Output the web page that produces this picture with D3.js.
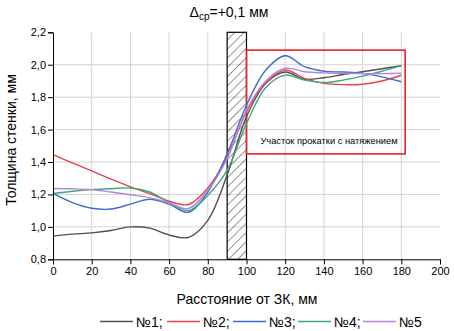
<!DOCTYPE html>
<html><head><meta charset="utf-8">
<script src="https://cdn.jsdelivr.net/npm/d3@7"></script>
<style>
html,body{margin:0;padding:0;background:#fff;}
svg{display:block;font-family:"Liberation Sans",Arial,sans-serif;}
</style></head>
<body>
<svg id="c" width="454" height="331"></svg>
<script>
const xs = [0,10,20,30,40,50,60,70,80,90,100,110,120,130,140,150,160,170,180];
const s1 = [0.943,0.955,0.963,0.978,1.0,0.992,0.95,0.935,1.04,1.32,1.68,1.885,1.955,1.91,1.92,1.94,1.957,1.975,1.994];
const s2 = [1.445,1.395,1.345,1.295,1.247,1.205,1.158,1.138,1.24,1.43,1.71,1.89,1.967,1.916,1.885,1.877,1.88,1.9,1.935];
const s3 = [1.206,1.15,1.115,1.11,1.14,1.17,1.14,1.09,1.215,1.45,1.75,1.967,2.055,1.988,1.96,1.955,1.947,1.925,1.895];
const s4 = [1.206,1.22,1.23,1.235,1.24,1.215,1.15,1.10,1.195,1.35,1.638,1.86,1.936,1.905,1.89,1.905,1.93,1.96,1.994];
const s5 = [1.237,1.235,1.23,1.215,1.198,1.18,1.148,1.113,1.226,1.42,1.72,1.9,1.978,1.957,1.95,1.947,1.945,1.945,1.947];
const seriesNames = ["№1;","№2;","№3;","№4;","№5"];
const seriesColors = ["#505050","#e8424e","#3b6dcb","#3fa67d","#b583e0"];
const xTicks = [0,20,40,60,80,100,120,140,160,180,200];
const yTicks = [0.8,1.0,1.2,1.4,1.6,1.8,2.0,2.2];
const hatchRange = [90,100];
const zoneRange = [100,182];
const zoneY = [1.45,2.09];
const titleMain = "Δ", titleSub = "ср", titleRest = "=+0,1 мм";
const xLabel = "Расстояние от ЗК, мм";
const yLabel = "Толщина стенки, мм";
const zoneLabel = "Участок прокатки с натяжением";

const svg = d3.select("#c");
const x = d3.scaleLinear().domain([0,200]).range([53,440]);
const y = d3.scaleLinear().domain([0.8,2.2]).range([259.3,32.3]);
const fmt = v => d3.format(".1f")(v).replace(".",",");

const defs = svg.append("defs");
const pat = defs.append("pattern").attr("id","hatch").attr("patternUnits","userSpaceOnUse")
  .attr("width",6.5).attr("height",6.5).attr("patternTransform","rotate(45)");
pat.append("line").attr("x1",0).attr("y1",0).attr("x2",0).attr("y2",6.5).attr("stroke","#000").attr("stroke-width",0.8);

const gridX = xTicks.filter(v => v>0 && v<200);
svg.append("g").selectAll("line").data(gridX).join("line")
  .attr("x1",d=>x(d)).attr("x2",d=>x(d)).attr("y1",y(2.2)).attr("y2",y(0.8))
  .attr("stroke","#d4d4d4").attr("stroke-width",1);
svg.append("g").selectAll("line").data(yTicks.filter(v=>v>0.8 && v<2.2)).join("line")
  .attr("x1",x(0)).attr("x2",x(200)).attr("y1",d=>y(d)).attr("y2",d=>y(d))
  .attr("stroke","#d4d4d4").attr("stroke-width",1);

svg.append("rect").attr("x",x(hatchRange[0])).attr("y",y(2.2))
  .attr("width",x(hatchRange[1])-x(hatchRange[0])).attr("height",y(0.8)-y(2.2))
  .attr("fill","url(#hatch)").attr("stroke","#000").attr("stroke-width",1.2);

svg.append("rect").attr("x",x(zoneRange[0])).attr("y",y(zoneY[1]))
  .attr("width",x(zoneRange[1])-x(zoneRange[0])).attr("height",y(zoneY[0])-y(zoneY[1]))
  .attr("fill","none").attr("stroke","#e8202a").attr("stroke-width",1.6);
svg.append("text").attr("x",329).attr("y",y(1.5)-2)
  .attr("text-anchor","middle").attr("font-size",9.3).attr("fill","#000").text(zoneLabel);

const line = d3.line().x(d=>x(d[0])).y(d=>y(d[1])).curve(d3.curveCatmullRom.alpha(0.5));
[s1,s2,s3,s4,s5].forEach((s,i)=>{
  svg.append("path").datum(xs.map((v,j)=>[v,s[j]])).attr("d",line)
    .attr("fill","none").attr("stroke",seriesColors[i]).attr("stroke-width",1.4);
});

const gx = svg.append("g").attr("transform",`translate(0,${y(0.8)})`);
gx.call(d3.axisBottom(x).tickValues(d3.range(0,201,10)).tickSize(3).tickFormat(""));
gx.call(d3.axisBottom(x).tickValues(xTicks).tickSize(5).tickPadding(3).tickFormat(d3.format("d")));
gx.selectAll("text").attr("font-size",11).attr("font-family","Liberation Sans,Arial").attr("fill","#000");
gx.selectAll("path,line").attr("stroke","#000");
const gy = svg.append("g").attr("transform",`translate(${x(0)},0)`);
gy.call(d3.axisLeft(y).tickValues(d3.range(8,23).map(v=>v/10)).tickSize(3).tickFormat(""));
gy.call(d3.axisLeft(y).tickValues(yTicks).tickSize(5).tickPadding(2).tickFormat(fmt));
gy.selectAll("text").attr("font-size",11).attr("font-family","Liberation Sans,Arial").attr("fill","#000");
gy.selectAll("path,line").attr("stroke","#000");
svg.selectAll(".domain").attr("stroke-width",1);

const t = svg.append("text").attr("x",229).attr("y",17).attr("text-anchor","middle").attr("font-size",14);
t.append("tspan").text(titleMain);
t.append("tspan").attr("font-size",10).attr("dy",3).text(titleSub);
t.append("tspan").attr("dy",-3).text(titleRest);

svg.append("text").attr("x",247).attr("y",304).attr("text-anchor","middle").attr("font-size",14).text(xLabel);
svg.append("text").attr("transform","translate(16,140) rotate(-90)").attr("text-anchor","middle").attr("font-size",14).text(yLabel);

const legX = [100,167,233,298,363];
seriesNames.forEach((n,i)=>{
  svg.append("line").attr("x1",legX[i]).attr("x2",legX[i]+33).attr("y1",321.5).attr("y2",321.5)
    .attr("stroke",seriesColors[i]).attr("stroke-width",1.6);
  svg.append("text").attr("x",legX[i]+36).attr("y",326.5).attr("font-size",14).text(n);
});
</script>
</body></html>
